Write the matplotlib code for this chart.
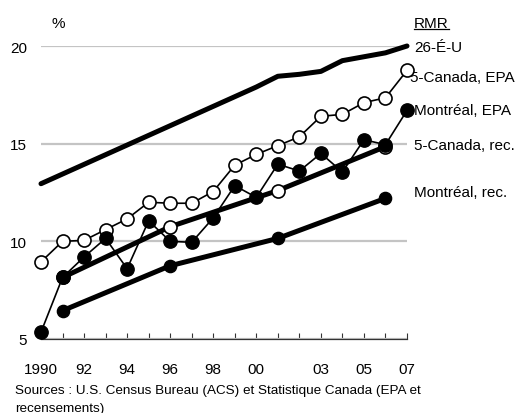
import matplotlib
matplotlib.use('Agg')
import matplotlib.pyplot as plt
from matplotlib.lines import Line2D

plt.rcParams['font.family'] = ['Liberation Sans', 'DejaVu Sans']

# Data
us_years = [1990, 2000, 2001, 2002, 2003, 2004, 2005, 2006, 2007]
us_vals = [12.95, 17.9, 18.45, 18.55, 18.7, 19.25, 19.45, 19.65, 20.0]

years = list(range(1990, 2008))
can_epa = [8.95, 10.0, 10.05, 10.6, 11.15, 12.0, 11.95, 11.95, 12.55,
           13.9, 14.45, 14.9, 15.35, 16.4, 16.5, 17.1, 17.35, 18.75]
mtl_epa = [5.35, 8.15, 9.2, 10.15, 8.6, 11.05, 10.0, 9.95, 11.2,
           12.85, 12.25, 13.95, 13.6, 14.5, 13.55, 15.2, 14.95, 16.7]

census_years = [1991, 1996, 2001, 2006]
can_rec = [8.15, 10.75, 12.6, 14.85]
mtl_rec = [6.45, 8.75, 10.15, 12.2]

tick_years = [1990, 1992, 1994, 1996, 1998, 2000, 2003, 2005, 2007]
tick_labels = ['1990', '92', '94', '96', '98', '00', '03', '05', '07']

fig = plt.figure(figsize=(5.16, 4.14), dpi=100)
ax = fig.add_axes([41 / 516, 74 / 414, 366 / 516, 293 / 414])

ax.plot(us_years, us_vals, color='black', lw=3.6, solid_capstyle='round', clip_on=False, zorder=3)
ax.plot(census_years, can_rec, color='black', lw=3.6, marker='o', ms=9.4, mfc='white',
        mec='black', mew=1.2, clip_on=False, zorder=3)
ax.plot(census_years, mtl_rec, color='black', lw=3.6, marker='o', ms=8.8, mfc='black',
        mec='black', clip_on=False, zorder=3)
ax.plot(years, can_epa, color='black', lw=1.2, marker='o', ms=9.4, mfc='white',
        mec='black', mew=1.2, clip_on=False, zorder=4)
ax.plot(years, mtl_epa, color='black', lw=1.2, marker='o', ms=9.6, mfc='black',
        mec='black', clip_on=False, zorder=5)

ax.set_xlim(1990, 2007)
ax.set_ylim(5, 20)
ax.set_yticks([5, 10, 15, 20])
ax.set_xticks(tick_years)
ax.set_xticklabels(tick_labels)
ax.set_xticks(years, minor=True)
ax.grid(axis='y', color='#c4c4c4', lw=1.6)
ax.set_axisbelow(True)

for s in ['left', 'right', 'top']:
    ax.spines[s].set_visible(False)
ax.spines['bottom'].set_color('#333333')
ax.spines['bottom'].set_linewidth(0.9)
ax.spines['bottom'].set_zorder(2)

ax.tick_params(axis='x', which='both', direction='in', length=4.3, width=0.8,
               color='#333333', pad=16.5, labelsize=11)
ax.tick_params(axis='y', length=0, pad=10, labelsize=11)

lab_x = 2007.33
fs = 11
rmr = ax.text(lab_x, 20.98, 'RMR', fontsize=fs, va='baseline')
ax.text(lab_x, 19.75, '26-É-U', fontsize=fs, va='baseline')
ax.text(2007.12, 18.21, '5-Canada, EPA', fontsize=fs, va='baseline')
ax.text(lab_x, 16.52, 'Montréal, EPA', fontsize=fs, va='baseline')
ax.text(lab_x, 14.73, '5-Canada, rec.', fontsize=fs, va='baseline')
ax.text(lab_x, 12.32, 'Montréal, rec.', fontsize=fs, va='baseline')
ax.text(1990.81, 20.98, '%', fontsize=fs, va='baseline', ha='center')

# underline under "RMR"
fig.canvas.draw()
bb = rmr.get_window_extent().transformed(fig.transFigure.inverted())
uy = bb.y0 + 1.0 / 414
fig.add_artist(Line2D([bb.x0, bb.x1], [uy, uy], color='black', lw=0.9))

fig.text(15 / 516, 1 - 394 / 414,
         'Sources : U.S. Census Bureau (ACS) et Statistique Canada (EPA et',
         fontsize=9.7, va='baseline')
fig.text(15 / 516, 1 - 412 / 414, 'recensements)', fontsize=9.7, va='baseline')

fig.savefig('out.png', dpi=100)
